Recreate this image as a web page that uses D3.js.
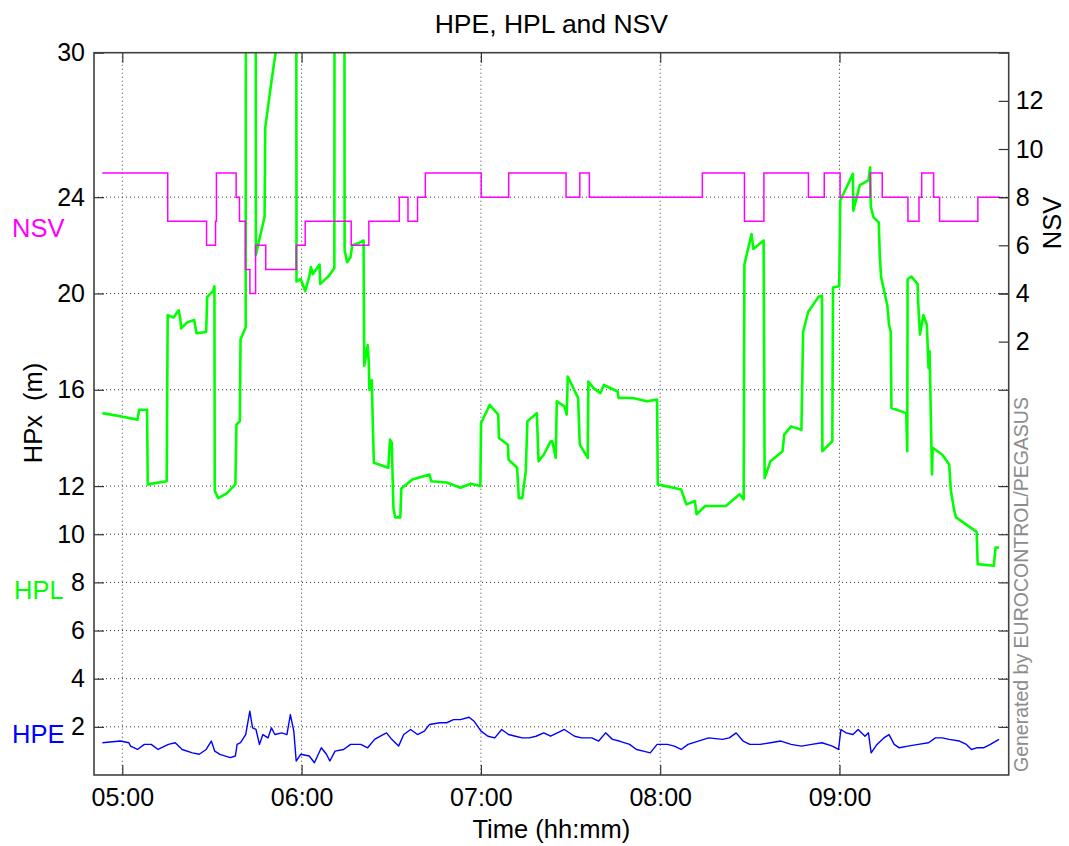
<!DOCTYPE html>
<html>
<head>
<meta charset="utf-8">
<script src="https://cdn.jsdelivr.net/npm/d3@7"></script>
<style>
  html, body { margin: 0; padding: 0; background: #fff; }
  svg { display: block; font-family: "Liberation Sans", Arial, Helvetica, sans-serif; }
</style>
</head>
<body>
<svg id="chart" width="1069" height="846"></svg>
<script>
// ---------- DATA (times are minutes after 05:00 UTC) ----------
const xStartMin = -9.47, xEndMin = 296.62;

const hpLeftTicks = [2, 4, 6, 8, 10, 12, 16, 20, 24, 30];
const nsvTicks = [2, 4, 6, 8, 10, 12];
const timeTickMin = [0, 60, 120, 180, 240];

// NSV (step after)
const nsvMin = [-6.7, 15.2, 28.2, 31.2, 31.5, 38.1, 39.2, 41.2, 42.7, 44.6, 48.0, 58.2, 61.2, 76.6, 82.5,
  92.7, 95.6, 98.8, 101.4, 120.1, 129.3, 148.5, 153.1, 156.3, 194.1, 208.2, 214.7, 229.6, 234.9,
  240.2, 250.3, 254.3, 262.9, 266.6, 267.5, 271.5, 273.5, 286.3, 293.7];
const nsvVal = [9, 7, 6, 7, 9, 8, 7, 5, 4, 6, 5, 6, 7, 6, 7,
  8, 7, 8, 9, 8, 9, 8, 9, 8, 9, 7, 9, 8, 9,
  8, 9, 8, 7, 8, 9, 8, 7, 8, 8];

// HPL (m); values above 30 leave the plotted range and are clipped
const hplMin = [-6.66, -0.68, 5.07, 5.65, 8.29, 8.52, 14.85, 15.19, 17.14, 18.87, 19.45, 19.67, 21.74, 24.04,
  24.85, 28.07, 28.41, 30.37, 30.83, 30.94, 32.09, 34.97, 37.84, 38.19, 39.33, 39.57, 41.29, 41.40,
  44.62, 44.70, 47.61, 47.84, 49.91, 51.64, 55.0, 58.19, 58.30, 59.69, 61.18, 62.56, 63.14, 63.71,
  66.01, 66.24, 68.89, 70.96, 71.05, 74.29, 74.40, 75.21, 76.36, 76.94, 79.24, 80.73, 80.96, 82.11,
  82.46, 82.69, 83.49, 83.84, 84.18, 89.01, 89.58, 90.16, 90.73, 91.31, 93.03, 93.38, 97.06, 102.81,
  103.38, 108.55, 113.15, 116.60, 119.82, 120.05, 122.93, 125.80, 126.03, 129.02, 129.25, 132.12,
  132.70, 133.85, 135.00, 135.57, 138.72, 139.29, 141.02, 143.32, 143.89, 145.04, 145.39, 147.92,
  148.72, 149.07, 152.52, 153.09, 155.74, 155.97, 157.69, 159.99, 161.14, 165.74, 166.08, 170.91,
  175.51, 178.96, 179.19, 187.01, 188.74, 191.61, 192.18, 195.06, 201.96, 206.56, 207.94, 208.17,
  210.58, 211.16, 214.61, 214.95, 216.91, 220.93, 221.51, 223.80, 227.25, 227.83, 229.55, 233.00,
  234.15, 234.27, 237.60, 237.83, 239.90, 240.25, 244.50, 244.62, 246.80, 249.68, 250.25, 250.48,
  251.40, 253.13, 253.47, 253.93, 256.00, 256.57, 257.15, 257.38, 262.33, 262.67, 262.79, 264.05,
  266.12, 266.35, 266.92, 268.07, 269.22, 269.80, 270.14, 270.95, 271.18, 274.40, 276.70, 277.27,
  278.42, 279.00, 282.45, 285.89, 286.24, 291.65, 292.22, 293.37];
const hplVal = [15.03, 14.90, 14.76, 15.17, 15.17, 12.07, 12.2, 19.10, 19.0, 19.3, 18.9, 18.55, 18.8, 18.9,
  18.35, 18.4, 19.86, 20.1, 20.3, 11.8, 11.5, 11.7, 12.07, 14.55, 14.7, 18.1, 18.6, 40,
  40, 21.6, 23.2, 26.9, 28.8, 30.3, 40, 40, 20.5, 20.6, 20.1, 20.7, 21.1, 20.8,
  21.2, 20.4, 20.7, 21.05, 40, 40, 21.8, 21.3, 21.5, 22.0, 22.1, 22.2, 17.0, 17.86,
  17.2, 16.0, 16.4, 14.55, 12.97, 12.76, 13.93, 13.8, 11.1, 10.7, 10.7, 11.9, 12.27, 12.48,
  12.2, 12.15, 11.93, 12.1, 12.0, 14.62, 15.37, 14.97, 14.0, 13.72, 13.1, 12.76,
  11.5, 11.5, 12.6, 14.69, 15.03, 13.03, 13.3, 13.86, 13.86, 13.17, 15.52, 15.31,
  14.97, 16.55, 15.66, 13.72, 13.17, 16.34, 16.07, 15.86, 16.2, 15.93, 15.66, 15.66,
  15.52, 15.59, 12.07, 11.86, 11.24, 11.38, 10.83, 11.17, 11.17, 11.66, 11.45, 21.2,
  22.47, 21.85, 22.2, 12.34, 13.03, 13.45, 14.14, 14.48, 14.34, 18.41, 19.24, 19.86,
  19.9, 13.45, 13.86, 20.25, 20.3, 23.86, 24.97, 23.44, 24.5, 24.7, 25.24, 23.6,
  23.16, 22.95, 21.6, 20.67, 19.5, 18.69, 18.41, 15.24, 15.03, 13.45, 20.6, 20.7,
  20.4, 19.6, 18.3, 19.1, 18.7, 16.9, 17.6, 12.48, 13.59, 13.3, 12.9, 11.8,
  10.97, 10.7, 10.4, 10.1, 8.76, 8.69, 9.45, 9.45];

// HPE (m)
const hpeMin = [-6.66, -0.68, 2.2, 2.77, 5.07, 7.37, 9.67, 11.97, 15.42, 17.72, 20.02, 23.47, 25.77, 28.07,
  29.79, 30.94, 32.67, 36.12, 37.84, 38.42, 39.57, 41.29, 42.67, 43.59, 44.74, 45.89, 47.04, 48.76,
  49.91, 51.06, 53.36, 55.09, 56.24, 57.39, 58.19, 59.69, 62.56, 64.29, 66.59, 68.31, 69.46, 71.19,
  74.06, 76.36, 79.81, 82.11, 84.41, 87.28, 88.43, 90.16, 92.46, 94.18, 96.48, 98.78, 101.08, 102.81,
  106.25, 108.55, 110.85, 113.15, 116.03, 117.75, 120.05, 122.35, 124.65, 126.95, 129.25, 131.55,
  133.85, 136.15, 138.45, 141.02, 143.32, 146.77, 147.92, 151.37, 153.67, 157.12, 159.42, 161.72,
  164.02, 166.31, 169.76, 172.06, 174.36, 176.66, 178.96, 182.41, 184.71, 187.01, 189.31, 192.76,
  196.21, 200.81, 203.11, 205.41, 207.71, 210.01, 213.46, 216.91, 220.36, 223.80, 227.25, 230.70,
  234.15, 237.60, 239.67, 240.48, 242.21, 244.50, 246.23, 248.53, 249.68, 250.60, 252.55, 254.85,
  256.57, 258.30, 260.02, 262.90, 266.35, 269.80, 272.10, 274.40, 276.70, 280.15, 282.45, 284.17,
  285.89, 288.19, 290.49, 293.37];
const hpeVal = [1.34, 1.41, 1.34, 1.20, 1.06, 1.27, 1.27, 1.06, 1.27, 1.34, 1.06, 0.92, 0.86, 1.06,
  1.41, 0.99, 0.86, 0.72, 0.79, 1.27, 1.34, 1.68, 2.65, 1.96, 1.89, 1.27, 1.68, 1.54,
  1.96, 1.68, 1.75, 1.68, 2.51, 1.82, 0.58, 0.86, 0.79, 0.51, 1.13, 0.86, 0.58, 0.99,
  1.06, 1.27, 1.27, 1.13, 1.48, 1.68, 1.75, 1.48, 1.20, 1.68, 1.89, 1.68, 1.82, 2.10,
  2.17, 2.17, 2.30, 2.30, 2.40, 2.23, 1.82, 1.61, 1.54, 1.89, 1.68, 1.61,
  1.54, 1.54, 1.61, 1.75, 1.61, 1.82, 1.89, 1.61, 1.54, 1.54, 1.41, 1.75,
  1.48, 1.41, 1.27, 1.06, 0.99, 0.92, 1.27, 1.27, 1.20, 1.06, 1.27, 1.41,
  1.54, 1.48, 1.54, 1.75, 1.41, 1.27, 1.27, 1.34, 1.41, 1.27, 1.20, 1.27,
  1.34, 1.20, 1.06, 1.89, 1.75, 1.68, 1.89, 1.61, 1.75, 0.92, 1.27, 1.54,
  1.68, 1.27, 1.13, 1.20, 1.27, 1.34, 1.54, 1.54, 1.48, 1.41, 1.27, 1.06,
  1.13, 1.13, 1.27, 1.48];

// ---------- CHART ----------
const W = 1069, H = 846;
const M = { left: 94, right: 1008.7, top: 52.7, bottom: 775 };
const base = Date.UTC(2000, 0, 1, 5, 0, 0);
const toDate = m => new Date(base + m * 60000);

const svg = d3.select("#chart");
const x = d3.scaleUtc().domain([toDate(xStartMin), toDate(xEndMin)]).range([M.left, M.right]);
const yL = d3.scaleLinear().domain([0, 30]).range([M.bottom, M.top]);
const yR = d3.scaleLinear().domain([-16, 14]).range([M.bottom, M.top]);

svg.append("defs").append("clipPath").attr("id", "plotclip")
  .append("rect").attr("x", M.left).attr("y", M.top)
  .attr("width", M.right - M.left).attr("height", M.bottom - M.top);

const TICK_FS = 25;
const gridColor = "#333";

// grid
const grid = svg.append("g");
grid.selectAll("line.h").data(hpLeftTicks.filter(v => v < 30)).join("line")
  .attr("x1", M.left).attr("x2", M.right)
  .attr("y1", d => yL(d)).attr("y2", d => yL(d))
  .attr("stroke", gridColor).attr("stroke-width", 1).attr("stroke-dasharray", "1,3");
grid.selectAll("line.v").data(timeTickMin).join("line")
  .attr("x1", d => x(toDate(d))).attr("x2", d => x(toDate(d)))
  .attr("y1", M.top).attr("y2", M.bottom)
  .attr("stroke", gridColor).attr("stroke-width", 1).attr("stroke-dasharray", "1,3");

// data
const plot = svg.append("g").attr("clip-path", "url(#plotclip)");

const nsvData = nsvMin.map((m, i) => [toDate(m), nsvVal[i]]);
const hplData = hplMin.map((m, i) => [toDate(m), hplVal[i]]);
const hpeData = hpeMin.map((m, i) => [toDate(m), hpeVal[i]]);

plot.append("path").datum(hplData)
  .attr("fill", "none").attr("stroke", "#00ff00").attr("stroke-width", 2.6)
  .attr("stroke-linejoin", "round")
  .attr("d", d3.line().x(d => x(d[0])).y(d => yL(d[1])));

plot.append("path").datum(nsvData)
  .attr("fill", "none").attr("stroke", "#ff00ff").attr("stroke-width", 1.5)
  .attr("d", d3.line().curve(d3.curveStepAfter).x(d => x(d[0])).y(d => yR(d[1])));

plot.append("path").datum(hpeData)
  .attr("fill", "none").attr("stroke", "#0000ff").attr("stroke-width", 1.4)
  .attr("stroke-linejoin", "round")
  .attr("d", d3.line().x(d => x(d[0])).y(d => yL(d[1])));

// axes
const axisColor = "#333";
function styleAxis(g, showText) {
  g.select(".domain").remove();
  g.selectAll(".tick line").attr("stroke", axisColor).attr("stroke-width", 1.2);
  g.selectAll(".tick text").attr("fill", "#000").style("font-size", TICK_FS + "px")
    .style("font-family", '"Liberation Sans", Arial, sans-serif');
}

const timeTicks = timeTickMin.map(toDate);
svg.append("g").attr("transform", `translate(0,${M.bottom})`)
  .call(d3.axisBottom(x).tickValues(timeTicks).tickFormat(d3.utcFormat("%H:%M")).tickSize(-10).tickPadding(13))
  .call(styleAxis);
svg.append("g").attr("transform", `translate(0,${M.top})`)
  .call(d3.axisTop(x).tickValues(timeTicks).tickFormat("").tickSize(-10))
  .call(styleAxis);
svg.append("g").attr("transform", `translate(${M.left},0)`)
  .call(d3.axisLeft(yL).tickValues(hpLeftTicks).tickSize(-10).tickPadding(9))
  .call(styleAxis);
svg.append("g").attr("transform", `translate(${M.right},0)`)
  .call(d3.axisRight(yL).tickValues(hpLeftTicks).tickFormat("").tickSize(-10))
  .call(styleAxis);
svg.append("g").attr("transform", `translate(${M.right},0)`)
  .call(d3.axisRight(yR).tickValues(nsvTicks).tickSize(-10).tickPadding(7))
  .call(styleAxis);

// frame
svg.append("rect").attr("x", M.left).attr("y", M.top)
  .attr("width", M.right - M.left).attr("height", M.bottom - M.top)
  .attr("fill", "none").attr("stroke", "#404040").attr("stroke-width", 1.6);

// texts
svg.append("text").attr("x", (M.left + M.right) / 2).attr("y", 32.5)
  .attr("text-anchor", "middle").style("font-size", "26.5px").text("HPE, HPL and NSV");
svg.append("text").attr("x", (M.left + M.right) / 2).attr("y", 838)
  .attr("text-anchor", "middle").style("font-size", "25.5px").text("Time (hh:mm)");
svg.append("text").attr("transform", "translate(41.5,413) rotate(-90)")
  .attr("text-anchor", "middle").style("font-size", "25.5px").text("HPx\u00a0\u00a0(m)");
svg.append("text").attr("transform", "translate(1061,223) rotate(-90)")
  .attr("text-anchor", "middle").style("font-size", "25.5px").text("NSV");
svg.append("text").attr("transform", "translate(1027.5,772) rotate(-90)")
  .attr("text-anchor", "start").attr("fill", "#8c8c8c").style("font-size", "19.5px")
  .text("Generated by EUROCONTROL/PEGASUS");

svg.append("text").attr("x", 12).attr("y", 237).attr("fill", "#ff00ff")
  .style("font-size", "25.5px").text("NSV");
svg.append("text").attr("x", 14).attr("y", 599).attr("fill", "#00ff00")
  .style("font-size", "25.5px").text("HPL");
svg.append("text").attr("x", 12).attr("y", 743).attr("fill", "#0000ff")
  .style("font-size", "25.5px").text("HPE");
</script>
</body>
</html>
